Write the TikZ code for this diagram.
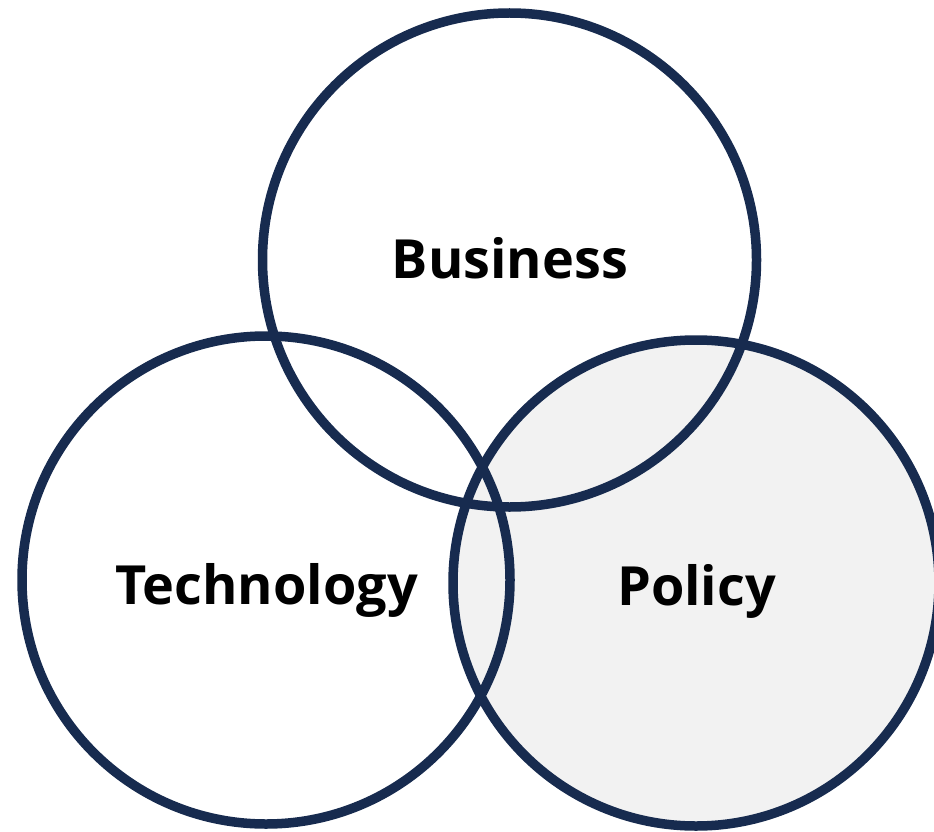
\documentclass[tikz,border=0pt]{standalone}
\usepackage{fontspec}
\setmainfont{Open Sans}
\definecolor{navy}{HTML}{172B4F}
\definecolor{lightfill}{HTML}{F2F2F2}
\tikzset{
  ring/.style={circle, draw=navy, line width=9.5pt, inner sep=0pt, outer sep=0pt},
  label/.style={anchor=base, inner sep=0pt, font=\bfseries\fontsize{54}{62}\selectfont, text=black}
}
\begin{document}
\begin{tikzpicture}[x=1pt,y=-1pt]
  \useasboundingbox (0,0) rectangle (934,832);
  \fill[lightfill] (696,583) circle (243);
  \node[ring, minimum size=494pt] (business) at (509.5,260) {};
  \node[ring, minimum size=488pt] (technology) at (266,580) {};
  \node[ring, minimum size=486pt] (policy) at (696,583) {};
  \node[label] (lbusiness) at (510,278) {Business};
  \node[label] (ltechnology) at (266.5,604) {Technology};
  \node[label] (lpolicy) at (696.5,605) {Policy};
\end{tikzpicture}
\end{document}
